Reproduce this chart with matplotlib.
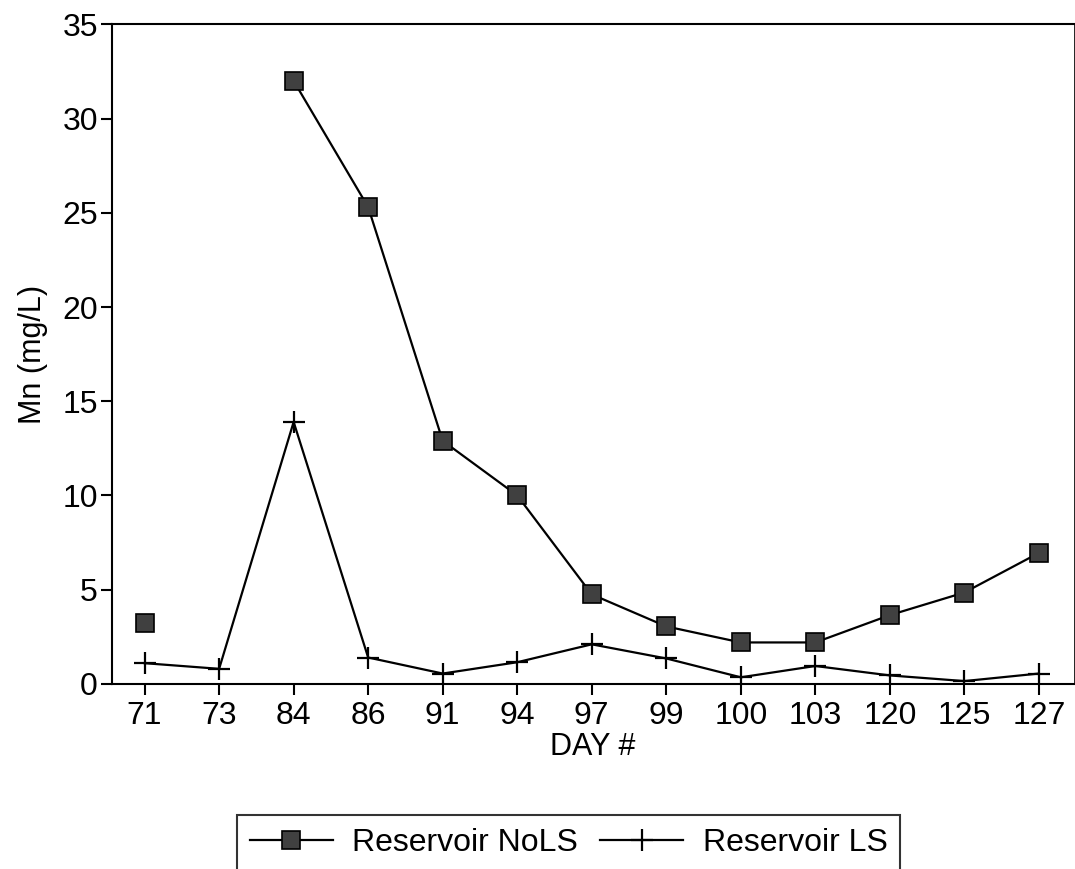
import numpy as np
import matplotlib
matplotlib.use("Agg")
import matplotlib.pyplot as plt

plt.rcParams['font.family'] = ['Liberation Sans', 'DejaVu Sans']

# data
days = ['71', '73', '84', '86', '91', '94', '97', '99', '100', '103', '120', '125', '127']
mn_nols = [3.25, np.nan, 32.0, 25.3, 12.9, 10.0, 4.75, 3.05, 2.2, 2.2, 3.65, 4.85, 6.95]
mn_ls = [1.1, 0.8, 13.9, 1.4, 0.55, 1.15, 2.1, 1.35, 0.35, 0.95, 0.45, 0.15, 0.55]

fig = plt.figure(figsize=(10.75, 8.69), dpi=100)
ax = fig.add_axes([0.104, 0.213, 0.895, 0.759])

x = np.arange(len(days))

# NoLS has no value on day 73 -> the day-71 point stays on its own
ax.plot(x, mn_nols, '-s', color='black', linewidth=1.6,
        markersize=13, markerfacecolor='#404040', markeredgecolor='black',
        markeredgewidth=1.2, label='Reservoir NoLS')
ax.plot(x, mn_ls, '-+', color='black', linewidth=1.6,
        markersize=16, markeredgewidth=1.6, label='Reservoir LS')

ax.set_xlim(-0.44, len(days) - 1 + 0.47)
ax.set_ylim(0, 35)
ax.set_xticks(x)
ax.set_xticklabels(days)
ax.set_yticks(np.arange(0, 36, 5))

ax.tick_params(axis='both', labelsize=23, width=1.5, length=8, direction='out')
ax.tick_params(axis='y', pad=2)
ax.tick_params(axis='x', pad=4)
for s in ax.spines.values():
    s.set_linewidth(1.5)
ax.spines['right'].set_linewidth(0.6)

ax.set_xlabel('DAY #', fontsize=22, labelpad=1)
ax.set_ylabel('Mn (mg/L)', fontsize=22, labelpad=10)

leg = fig.legend(loc='upper center', bbox_to_anchor=(0.529, 0.062),
                 bbox_transform=fig.transFigure, ncol=2, fontsize=23,
                 frameon=True, fancybox=False, edgecolor='black',
                 borderpad=0.4, handlelength=2.6, handletextpad=0.6,
                 columnspacing=0.7, borderaxespad=0)
leg.get_frame().set_linewidth(1.5)

fig.savefig('out.png', dpi=100)
